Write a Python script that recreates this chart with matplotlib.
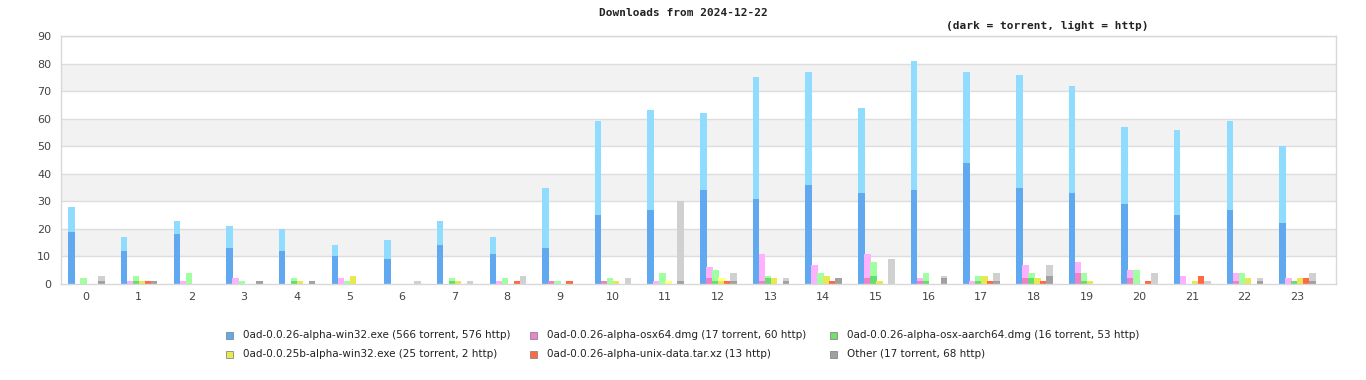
import matplotlib
matplotlib.use("Agg")
import matplotlib.pyplot as plt
from matplotlib.patches import Rectangle
import numpy as np

hours = list(range(24))

win32_torrent = [19, 12, 18, 13, 12, 10, 9, 14, 11, 13, 25, 27, 34, 31, 36, 33, 34, 44, 35, 33, 29, 25, 27, 22]
win32_http = [9, 5, 5, 8, 8, 4, 7, 9, 6, 22, 34, 36, 28, 44, 41, 31, 47, 33, 41, 39, 28, 31, 32, 28]

osx64_torrent = [0, 0, 0, 0, 0, 0, 0, 0, 0, 1, 1, 0, 2, 1, 0, 2, 1, 0, 2, 4, 2, 0, 1, 0]
osx64_http = [0, 1, 1, 2, 0, 2, 0, 0, 1, 0, 0, 1, 4, 10, 7, 9, 1, 1, 5, 4, 3, 3, 3, 2]

aarch64_torrent = [0, 1, 0, 0, 1, 0, 0, 1, 0, 0, 0, 0, 1, 2, 0, 3, 1, 1, 2, 1, 0, 0, 0, 1]
aarch64_http = [2, 2, 4, 1, 1, 1, 0, 1, 2, 1, 2, 4, 4, 1, 4, 5, 3, 2, 2, 3, 5, 0, 4, 0]

w25b_torrent = [0, 1, 0, 0, 1, 3, 0, 1, 0, 0, 1, 0, 1, 2, 3, 1, 0, 3, 2, 1, 0, 1, 2, 2]
w25b_http = [0, 0, 0, 0, 0, 0, 0, 0, 0, 0, 0, 1, 1, 0, 0, 0, 0, 0, 0, 0, 0, 0, 0, 0]

unix_torrent = [0] * 24
unix_http = [0, 1, 0, 0, 0, 0, 0, 0, 1, 1, 0, 0, 1, 0, 1, 0, 0, 1, 1, 0, 1, 3, 0, 2]

other_torrent = [1, 1, 0, 1, 1, 0, 0, 0, 0, 0, 0, 1, 1, 1, 2, 0, 2, 1, 3, 0, 0, 0, 1, 1]
other_http = [2, 0, 0, 0, 0, 0, 1, 1, 3, 0, 2, 29, 3, 1, 0, 9, 1, 3, 4, 0, 4, 1, 1, 3]

series_labels = [
    "0ad-0.0.26-alpha-win32.exe (566 torrent, 576 http)",
    "0ad-0.0.26-alpha-osx64.dmg (17 torrent, 60 http)",
    "0ad-0.0.26-alpha-osx-aarch64.dmg (16 torrent, 53 http)",
    "0ad-0.0.25b-alpha-win32.exe (25 torrent, 2 http)",
    "0ad-0.0.26-alpha-unix-data.tar.xz (13 http)",
    "Other (17 torrent, 68 http)",
]
y_ticks = [0, 10, 20, 30, 40, 50, 60, 70, 80, 90]

torrents = [win32_torrent, osx64_torrent, aarch64_torrent, w25b_torrent, unix_torrent, other_torrent]
https = [win32_http, osx64_http, aarch64_http, w25b_http, unix_http, other_http]
dark_colors = ["#60A8F0", "#F080C8", "#68DC70", "#E8E850", "#FF6840", "#A0A0A0"]
light_colors = ["#90DCFF", "#FFB0FF", "#A0FFA0", "#FFFF80", "#FF6840", "#D0D0D0"]
legend_colors = ["#60A8F0", "#F080D0", "#70E070", "#E8E850", "#FF6840", "#A0A0A0"]

fig = plt.figure(figsize=(13.66, 3.8), dpi=100)
ax = fig.add_axes([61 / 1366, 1 - 284 / 380, 1275 / 1366, 248 / 380])

# background bands and grid
for lo in (10, 30, 50, 70):
    ax.axhspan(lo, lo + 10, color="#F2F2F2", zorder=0, lw=0)
for yv in y_ticks[1:]:
    ax.axhline(yv, color="#DDDDDD", lw=1, zorder=0.5)

x = np.arange(24)
bw = 0.123
spacing = 0.114
for i in range(6):
    pos = x - 0.275 + i * spacing
    t = np.array(torrents[i])
    h = np.array(https[i])
    ax.bar(pos, t, width=bw, color=dark_colors[i], lw=0, zorder=2)
    ax.bar(pos, h, width=bw, bottom=t, color=light_colors[i], lw=0, zorder=2)

ax.set_xlim(-0.475, 23.74)
ax.set_ylim(0, 90)
ax.set_xticks(x)
ax.set_xticklabels([str(hh) for hh in hours])
ax.set_yticks(y_ticks)
ax.tick_params(axis="both", length=0, labelsize=8, colors="#444444", pad=6)
ax.tick_params(axis="y", pad=7)
for s in ax.spines.values():
    s.set_color("#D8D8D8")
    s.set_linewidth(1)

fig.text(683 / 1366, 1 - 13 / 380, "Downloads from 2024-12-22", ha="center", va="center",
         family="DejaVu Sans Mono", fontsize=8, fontweight="bold", color="#222222")
fig.text(1047 / 1366, 1 - 26 / 380, "(dark = torrent, light = http)", ha="center", va="center",
         family="DejaVu Sans Mono", fontsize=8, fontweight="bold", color="#222222")

# legend, laid out row-wise in three columns
col_x = [226, 530, 830]
row_y = [335, 354]
for k in range(6):
    r, c = divmod(k, 3)
    px = col_x[c]
    py = row_y[r]
    fig.patches.append(Rectangle((px / 1366, 1 - (py + 4) / 380), 7 / 1366, 7 / 380,
                                 transform=fig.transFigure, facecolor=legend_colors[k],
                                 edgecolor="#888888", lw=0.6))
    fig.text((px + 17) / 1366, 1 - py / 380, series_labels[k], ha="left", va="center",
             family="DejaVu Sans", fontsize=7.5, color="#222222")

fig.savefig("out.png", dpi=100)
